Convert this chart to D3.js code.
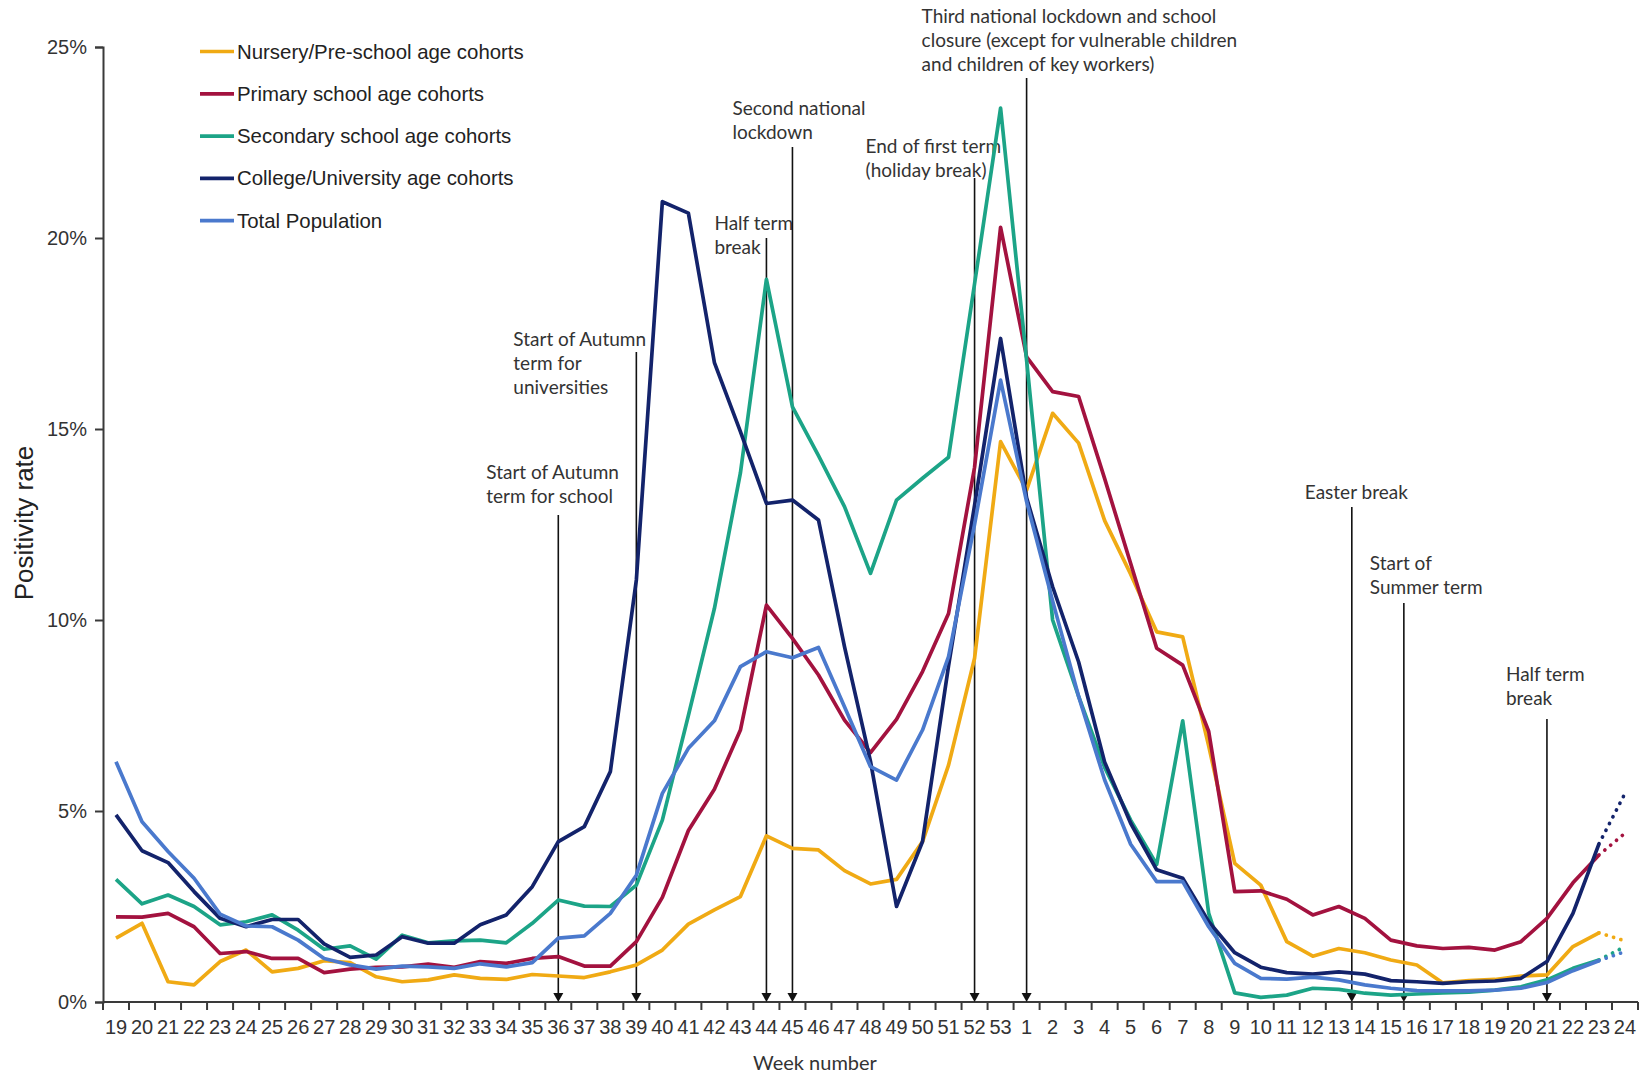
<!DOCTYPE html>
<html><head><meta charset="utf-8">
<script src="https://cdn.jsdelivr.net/npm/d3@7"></script>
<style>body{margin:0;background:#fff}</style>
</head><body>
<svg id="chart" width="1649" height="1074"></svg>
<script>
// ---------- DATA ----------
const weekLabels = ["19","20","21","22","23","24","25","26","27","28","29","30","31","32","33","34","35","36","37","38","39","40","41","42","43","44","45","46","47","48","49","50","51","52","53","1","2","3","4","5","6","7","8","9","10","11","12","13","14","15","16","17","18","19","20","21","22","23","24"];

const seriesNames = ["Nursery/Pre-school age cohorts","Primary school age cohorts","Secondary school age cohorts","College/University age cohorts","Total Population"];
const seriesColors = ["#F0AA14","#A3123F","#1CA487","#13236B","#4A79CD"];

// weekly positivity (%) weeks 19..53, 1..23
const nursery = [1.67,2.06,0.53,0.45,1.06,1.36,0.79,0.88,1.08,1.03,0.66,0.53,0.58,0.71,0.62,0.59,0.72,0.68,0.64,0.79,0.97,1.36,2.04,2.41,2.76,4.35,4.02,3.98,3.44,3.09,3.21,4.2,6.2,9.0,14.67,13.4,15.41,14.63,12.6,11.2,9.69,9.56,6.7,3.63,3.06,1.58,1.2,1.4,1.29,1.1,0.97,0.5,0.56,0.59,0.68,0.71,1.45,1.81];
const primary = [2.23,2.22,2.32,1.97,1.27,1.32,1.14,1.14,0.77,0.86,0.91,0.92,0.99,0.91,1.06,1.01,1.14,1.19,0.94,0.94,1.58,2.74,4.49,5.57,7.12,10.39,9.52,8.56,7.38,6.53,7.4,8.65,10.17,14.0,20.28,16.89,15.98,15.85,13.7,11.48,9.26,8.82,7.08,2.89,2.91,2.69,2.28,2.5,2.19,1.62,1.47,1.4,1.43,1.36,1.58,2.19,3.12,3.85];
const secondary = [3.21,2.57,2.8,2.5,2.02,2.1,2.28,1.88,1.38,1.47,1.12,1.75,1.55,1.6,1.62,1.55,2.06,2.67,2.51,2.5,3.06,4.76,7.5,10.3,13.85,18.92,15.58,14.3,12.97,11.22,13.14,13.71,14.26,18.8,23.4,16.8,10.0,8.0,6.14,4.76,3.6,7.36,2.32,0.24,0.12,0.18,0.36,0.33,0.23,0.18,0.21,0.24,0.26,0.31,0.4,0.58,0.88,1.1];
const college = [4.9,3.96,3.65,2.89,2.19,1.97,2.16,2.16,1.52,1.17,1.23,1.71,1.54,1.54,2.02,2.28,3.02,4.2,4.59,6.03,11.05,20.95,20.65,16.74,14.93,13.05,13.14,12.62,9.3,6.3,2.5,4.2,8.8,13.0,17.37,13.2,10.87,8.9,6.28,4.68,3.46,3.24,2.1,1.29,0.91,0.77,0.73,0.79,0.73,0.56,0.53,0.49,0.53,0.55,0.62,1.06,2.32,4.14];
const total = [6.29,4.72,3.94,3.24,2.3,1.99,1.97,1.62,1.14,0.97,0.86,0.94,0.92,0.88,1.0,0.92,1.03,1.67,1.73,2.32,3.32,5.46,6.64,7.36,8.78,9.17,9.01,9.28,7.73,6.16,5.81,7.12,9.04,12.5,16.28,13.1,10.5,8.0,5.81,4.13,3.15,3.15,1.97,1.01,0.62,0.6,0.65,0.58,0.45,0.36,0.3,0.29,0.29,0.31,0.36,0.51,0.82,1.08];
// provisional week 24 values (dotted), same order as seriesNames
const week24Provisional = [1.6,4.42,1.45,5.46,1.32];

const yTicks = [0,5,10,15,20,25];

// annotations: index into weekLabels, offset in bands (0 = centre, 0.5 = boundary after)
const annotations = [
  {idx:17, off:0,   lines:["Start of Autumn","term for school"], dx:-72, y0:471, top:515},
  {idx:20, off:0,   lines:["Start of Autumn","term for","universities"], dx:-123, y0:338, top:352},
  {idx:25, off:0,   lines:["Half term","break"], dx:-52, y0:222, top:238},
  {idx:26, off:0,   lines:["Second national","lockdown"], dx:-60, y0:107, top:147},
  {idx:33, off:0,   lines:["End of first term","(holiday break)"], dx:-109, y0:145, top:178},
  {idx:35, off:0,   lines:["Third national lockdown and school","closure (except for vulnerable children","and children of key workers)"], dx:-105, y0:15, top:78},
  {idx:47, off:0.5, lines:["Easter break"], dx:-47, y0:491, top:507},
  {idx:49, off:0.5, lines:["Start of","Summer term"], dx:-34, y0:562, top:603},
  {idx:55, off:0,   lines:["Half term","break"], dx:-41, y0:673, top:719}
];

// ---------- CHART ----------
const svg = d3.select("#chart");
const x = d3.scaleBand().domain(d3.range(weekLabels.length)).range([103,1638]).paddingInner(0).paddingOuter(0);
const y = d3.scaleLinear().domain([0,25]).range([1002,47]);
const cx = i => x(i) + x.bandwidth()/2;
const axisColor = "#3a3a3a";
const textColor = "#333";

// y axis
const gy = svg.append("g").attr("transform","translate(103,0)")
  .call(d3.axisLeft(y).tickValues(yTicks).tickFormat(d=>d+"%").tickSize(8).tickPadding(8));
gy.select(".domain").attr("stroke",axisColor).attr("stroke-width",2);
gy.selectAll(".tick line").attr("stroke",axisColor).attr("stroke-width",2);
gy.selectAll(".tick text").attr("font-family","'Liberation Sans', Arial, sans-serif").attr("font-size",20).attr("fill",textColor);

// x axis labels
const gx = svg.append("g").attr("transform","translate(0,1002)")
  .call(d3.axisBottom(x).tickSize(0).tickPadding(18).tickFormat(i=>weekLabels[i]));
gx.select(".domain").remove();
gx.selectAll(".tick text").attr("font-family","'Liberation Sans', Arial, sans-serif").attr("font-size",20).attr("fill",textColor);
// x ticks at band boundaries
const bounds = d3.range(weekLabels.length).map(i=>x(i)).concat([x.range()[1]]);
svg.append("g").selectAll("line").data(bounds).join("line")
  .attr("x1",d=>d).attr("x2",d=>d).attr("y1",1002).attr("y2",1010)
  .attr("stroke",axisColor).attr("stroke-width",2);
svg.append("line").attr("x1",x.range()[0]).attr("x2",x.range()[1]).attr("y1",1002).attr("y2",1002)
  .attr("stroke",axisColor).attr("stroke-width",2);

// axis titles
svg.append("text").attr("x",815).attr("y",1062).attr("text-anchor","middle").attr("dominant-baseline","central")
  .attr("font-family","Lato, 'Open Sans', sans-serif").attr("font-size",20).attr("fill",textColor).text("Week number");
svg.append("text").attr("transform","translate(24,523) rotate(-90)").attr("text-anchor","middle").attr("dominant-baseline","central")
  .attr("font-family","'Liberation Sans', Arial, sans-serif").attr("font-size",26).attr("fill","#222").text("Positivity rate");

// annotations
const ag = svg.append("g");
annotations.forEach(a=>{
  const ax = cx(a.idx) + a.off*x.bandwidth();
  ag.append("line").attr("x1",ax).attr("x2",ax).attr("y1",a.top).attr("y2",995)
    .attr("stroke","#111").attr("stroke-width",1.6);
  ag.append("path").attr("d",`M${ax-5},993L${ax+5},993L${ax},1002Z`).attr("fill","#111");
  const t = ag.append("text").attr("font-family","Lato, 'Open Sans', sans-serif").attr("font-size",19).attr("fill","#333");
  a.lines.forEach((l,k)=>{
    t.append("tspan").attr("x",ax+a.dx).attr("y",a.y0 + k*24.2).attr("dominant-baseline","central").text(l);
  });
});

// lines
const allSeries = [nursery, primary, secondary, college, total];
const line = d3.line().x((d,i)=>cx(i)).y(d=>y(d));
const lg = svg.append("g");
allSeries.forEach((s,k)=>{
  lg.append("path").attr("d",line(s)).attr("fill","none").attr("stroke",seriesColors[k])
    .attr("stroke-width",3.7).attr("stroke-linejoin","round");
  const last = s.length-1;
  lg.append("line").attr("x1",cx(last)).attr("y1",y(s[last])).attr("x2",cx(last+1)).attr("y2",y(week24Provisional[k]))
    .attr("stroke",seriesColors[k]).attr("stroke-width",3.7).attr("stroke-linecap","round").attr("stroke-dasharray","0.1 7.5");
});

// legend
const leg = svg.append("g");
seriesNames.forEach((n,k)=>{
  const ly = 51.5 + k*42.3;
  leg.append("line").attr("x1",200).attr("x2",234).attr("y1",ly).attr("y2",ly).attr("stroke",seriesColors[k]).attr("stroke-width",3.7);
  leg.append("text").attr("x",237).attr("y",ly).attr("dominant-baseline","central")
    .attr("font-family","'Liberation Sans', Arial, sans-serif").attr("font-size",20.4).attr("fill","#222").text(n);
});
</script>
</body></html>
